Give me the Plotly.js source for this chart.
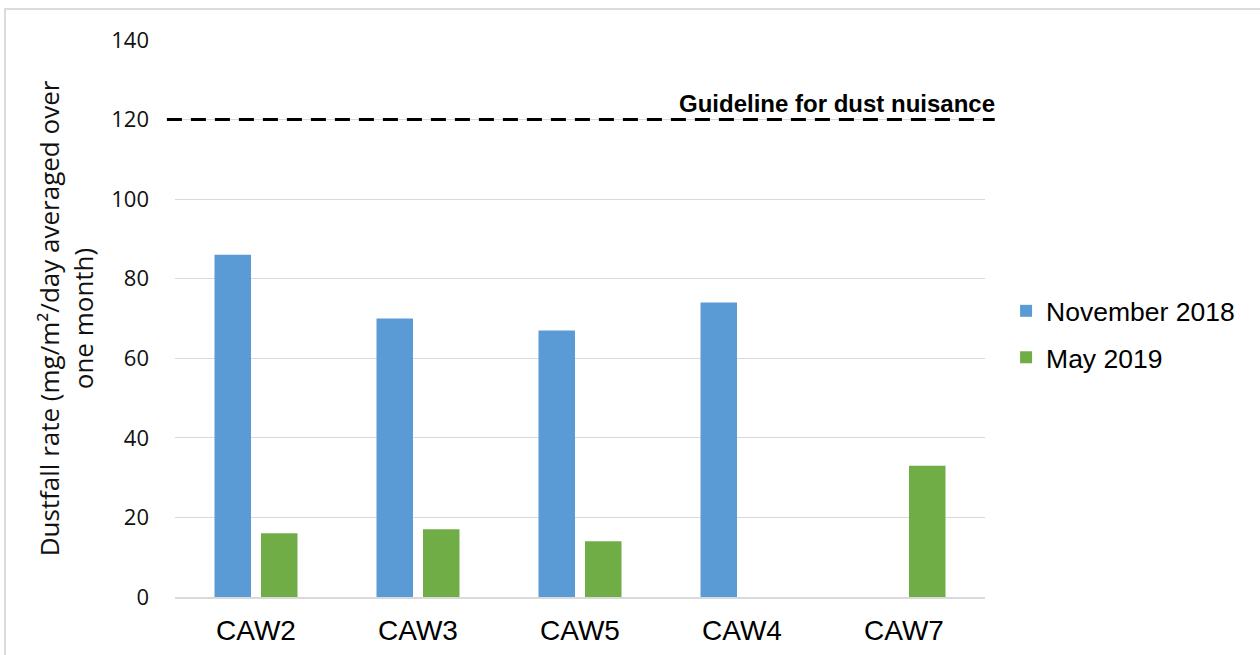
<!DOCTYPE html>
<html>
<head>
<meta charset="utf-8">
<script src="https://cdn.plot.ly/plotly-3.0.1.min.js"></script>
<style>
  html, body { margin: 0; padding: 0; background: #fff; overflow: hidden; }
  #chart { position: absolute; left: 0; top: 0; width: 1260px; height: 655px; }
  #frame { position: absolute; left: 4px; top: 8px; width: 1400px; height: 800px;
           border: 2px solid #dcdcdc; pointer-events: none; box-sizing: border-box; }
</style>
</head>
<body>
<div id="chart"></div>
<div id="frame"></div>
<script>
const categories = ["CAW2", "CAW3", "CAW5", "CAW4", "CAW7"];
const november2018 = [86, 70, 67, 74, null];
const may2019 = [16, 17, 14, null, 33];
const seriesNames = ["November 2018", "May 2019"];
const guidelineValue = 120;
const guidelineLabel = "Guideline for dust nuisance";
const yTickVals = [0, 20, 40, 60, 80, 100, 120, 140];
const yTitle = "Dustfall rate (mg/m²/day averaged over<br>one month)";

const traces = [
  { type: "bar", name: seriesNames[0], x: categories, y: november2018,
    marker: { color: "#5b9bd5" }, legendgroup: "a", hoverinfo: "x+y+name" },
  { type: "bar", name: seriesNames[1], x: categories, y: may2019,
    marker: { color: "#70ad47" }, legendgroup: "b", hoverinfo: "x+y+name" }
];

const layout = {
  width: 1260, height: 655,
  paper_bgcolor: "rgba(0,0,0,0)", plot_bgcolor: "#fff",
  margin: { l: 175, r: 275, t: 40, b: 58, autoexpand: false },
  barmode: "group", bargap: 0.426, bargroupgap: 0.215,
  showlegend: true,
  legend: {
    x: 1.026, xanchor: "left", y: 0.472, yanchor: "middle",
    font: { family: "Liberation Sans, Arial, sans-serif", size: 26.5, color: "#000" },
    traceorder: "grouped", tracegroupgap: 9, itemwidth: 30
  },
  xaxis: {
    type: "category", showgrid: false, zeroline: false,
    showline: true, linecolor: "#d9d9d9", linewidth: 2,
    ticks: "", ticklabelstandoff: 7,
    tickfont: { family: "Liberation Sans, Arial, sans-serif", size: 28, color: "#000" },
    automargin: false
  },
  yaxis: {
    range: [0, 140], tickvals: yTickVals, ticktext: yTickVals.map(String),
    showgrid: true, gridcolor: "#d9d9d9", gridwidth: 1, zeroline: false,
    showline: false, ticks: "", ticklabelstandoff: 25,
    tickfont: { family: "Open Sans, Segoe UI, sans-serif", size: 22, color: "#111" },
    title: { text: yTitle, standoff: 10,
      font: { family: "Open Sans, Segoe UI, sans-serif", size: 26, color: "#111" } },
    automargin: false
  },
  shapes: [
    { type: "line", xref: "paper", x0: -0.01, x1: 1.012, yref: "y", y0: guidelineValue, y1: guidelineValue,
      line: { color: "#000", width: 3, dash: "15px,9px" } }
  ],
  annotations: [
    { xref: "paper", x: 1, xanchor: "right", xshift: 12, yref: "y", y: guidelineValue,
      yanchor: "bottom", yshift: 1, showarrow: false, text: "<b>" + guidelineLabel + "</b>",
      font: { family: "Liberation Sans, Arial, sans-serif", size: 24, color: "#000" } }
  ]
};

Plotly.newPlot("chart", traces, layout, { displayModeBar: false, staticPlot: false });
</script>
</body>
</html>
